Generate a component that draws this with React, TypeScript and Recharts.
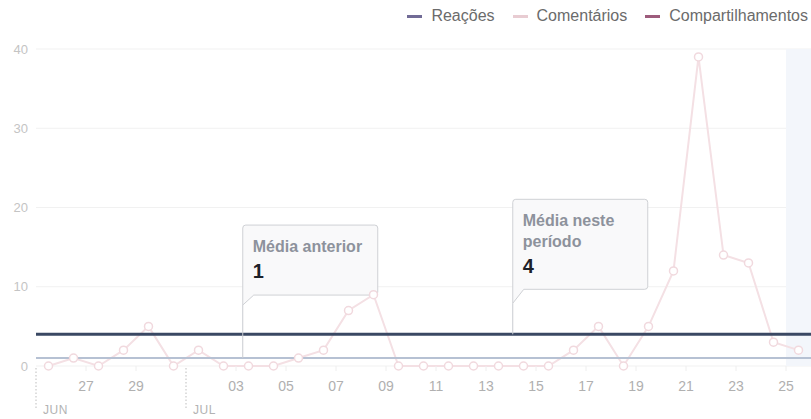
import {
  LineChart,
  Line,
  XAxis,
  YAxis,
  CartesianGrid,
  ReferenceLine,
  ReferenceArea,
  ReferenceDot,
  Legend,
} from "recharts";

// 25 jun -> 25 jul
const days = [
  25, 26, 27, 28, 29, 30, 1, 2, 3, 4, 5, 6, 7, 8, 9, 10, 11, 12, 13, 14, 15, 16,
  17, 18, 19, 20, 21, 22, 23, 24, 25,
];
const monthOf = [
  "JUN", "JUN", "JUN", "JUN", "JUN", "JUN", "JUL", "JUL", "JUL", "JUL", "JUL",
  "JUL", "JUL", "JUL", "JUL", "JUL", "JUL", "JUL", "JUL", "JUL", "JUL", "JUL",
  "JUL", "JUL", "JUL", "JUL", "JUL", "JUL", "JUL", "JUL", "JUL",
];
const comentarios = [
  0, 1, 0, 2, 5, 0, 2, 0, 0, 0, 1, 2, 7, 9, 0, 0, 0, 0, 0, 0, 0, 2, 5, 0, 5, 12,
  39, 14, 13, 3, 2,
];
const yTicks = [0, 10, 20, 30, 40];

const mediaAnterior = 1;
const mediaPeriodo = 4;

const series = [
  { name: "Reações", color: "#716b96" },
  { name: "Comentários", color: "#e8ccd2" },
  { name: "Compartilhamentos", color: "#9d5c7c" },
];

const data = comentarios.map((v, i) => ({ i, comentarios: v }));

// ticks sit on the start of a day (index - 0.5)
const monthTicks = days
  .map((d, i) => ({ pos: i - 0.5, label: monthOf[i], first: i === 0 || monthOf[i] !== monthOf[i - 1] }))
  .filter((t) => t.first);
const dayTicks = days
  .map((d, i) => ({ pos: i - 0.5, label: String(d).padStart(2, "0"), show: d % 2 === 1 }))
  .filter((t) => t.show && !monthTicks.some((m) => m.pos === t.pos));
const allTicks = [...monthTicks.map((t) => t.pos), ...dayTicks.map((t) => t.pos)].sort((a, b) => a - b);

const FONT = '"Liberation Sans", Arial, sans-serif';

function AxisTick(props: any) {
  const { x, y, payload } = props;
  const m = monthTicks.find((t) => t.pos === payload.value);
  if (m) {
    return (
      <g>
        <line x1={x} x2={x} y1={y + 2} y2={y + 42} stroke="#bdbdbd" strokeDasharray="1.5 2" />
        <text x={x + 7} y={y + 48} fontSize={12} fill="#b3b3b3" fontFamily={FONT} letterSpacing={0.5}>
          {m.label}
        </text>
      </g>
    );
  }
  const d = dayTicks.find((t) => t.pos === payload.value);
  return (
    <g>
      <line x1={x} x2={x} y1={y} y2={y + 5} stroke="#eeeeee" />
      <text x={x} y={y + 25} textAnchor="middle" fontSize={14} fill="#b0b0b0" fontFamily={FONT}>
        {d ? d.label : ""}
      </text>
    </g>
  );
}

const notes = [
  { title: ["Média anterior"], value: mediaAnterior, at: 7.77, up: 133, h: 70, tail: 10 },
  { title: ["Média neste", "período"], value: mediaPeriodo, at: 18.57, up: 135, h: 90, tail: 14 },
];

function Callout(props: any) {
  const { cx, cy, note } = props;
  const left = cx;
  const right = cx + 135;
  const top = cy - note.up;
  const bottom = top + note.h;
  const path = `M${left},${bottom + note.tail} L${left},${top + 3} Q${left},${top} ${left + 3},${top} L${right - 3},${top} Q${right},${top} ${right},${top + 3} L${right},${bottom - 3} Q${right},${bottom} ${right - 3},${bottom} L${left + 11},${bottom} Z`;
  return (
    <g>
      <line x1={left} x2={left} y1={bottom + note.tail} y2={cy} stroke="#c9cbd0" strokeWidth={1} />
      <path d={path} fill="#f9f9fa" stroke="#cfd1d5" strokeWidth={1} />
      {note.title.map((t: string, k: number) => (
        <text
          key={t}
          x={left + 10}
          y={top + 27 + k * 21}
          fontSize={16}
          fontWeight="bold"
          fill="#8d929c"
          fontFamily={FONT}
        >
          {t}
        </text>
      ))}
      <text
        x={left + 10}
        y={top + 27 + (note.title.length - 1) * 21 + 26}
        fontSize={20}
        fontWeight="bold"
        fill="#1d2129"
        fontFamily={FONT}
      >
        {note.value}
      </text>
    </g>
  );
}

function LegendContent() {
  return (
    <div style={{ display: "flex", alignItems: "center", fontFamily: FONT, fontSize: 16, color: "#6b6b6b" }}>
      {series.map((s) => (
        <div key={s.name} style={{ display: "flex", alignItems: "center", marginLeft: 18 }}>
          <span style={{ display: "inline-block", width: 15, height: 3, background: s.color, marginRight: 9 }} />
          <span>{s.name}</span>
        </div>
      ))}
    </div>
  );
}

export default function App() {
  return (
    <div style={{ width: 811, height: 419, background: "#fff", fontFamily: FONT }}>
      <style>{"body{margin:0}"}</style>
      <LineChart width={811} height={419} data={data} margin={{ top: 49, right: 0, bottom: 0, left: 0 }}>
        <CartesianGrid vertical={false} stroke="#f1f1f1" />
        <ReferenceArea x1={29.5} x2={30.5} y1={0} y2={40} fill="#f3f6fb" fillOpacity={1} stroke="none" />
        <XAxis
          dataKey="i"
          type="number"
          domain={[-0.5, 30.5]}
          ticks={allTicks}
          interval={0}
          axisLine={false}
          tickLine={false}
          tickSize={0}
          tickMargin={0}
          height={53}
          tick={<AxisTick />}
        />
        <YAxis
          domain={[0, 40]}
          ticks={yTicks}
          width={36}
          axisLine={false}
          tickLine={false}
          tick={{ fontSize: 13, fill: "#c4c4c4", fontFamily: FONT }}
        />
        <Legend
          layout="horizontal"
          align="center"
          verticalAlign="middle"
          wrapperStyle={{ top: 7, right: 3, left: "auto", width: "auto" }}
          content={<LegendContent />}
        />
        <Line
          type="linear"
          dataKey="comentarios"
          name="Comentários"
          stroke="#f4e0e4"
          strokeWidth={2}
          dot={{ r: 4, stroke: "#f1d9de", strokeWidth: 1.5, fill: "#fff" }}
          activeDot={false}
          isAnimationActive={false}
        />
        <ReferenceLine y={mediaAnterior} stroke="#b6c1d3" strokeWidth={2} />
        <ReferenceLine y={mediaPeriodo} stroke="#3a4863" strokeWidth={3} />
        {notes.map((n) => (
          <ReferenceDot
            key={n.title[0]}
            x={n.at}
            y={n.value}
            r={0}
            shape={(p: any) => <Callout {...p} note={n} />}
          />
        ))}
      </LineChart>
    </div>
  );
}
